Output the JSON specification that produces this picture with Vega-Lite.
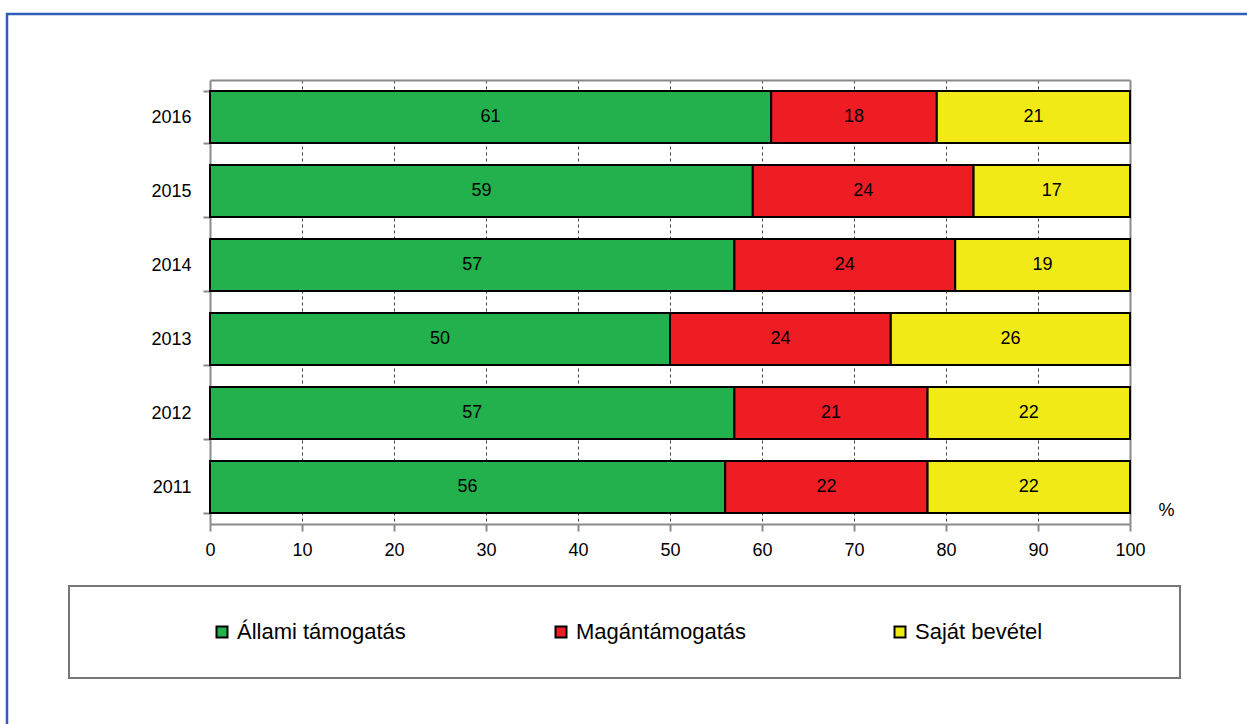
{
  "$schema": "https://vega.github.io/schema/vega-lite/v6.json",
  "width": 1240,
  "height": 710,
  "autosize": "none",
  "padding": {"left": 7, "top": 14, "right": 0, "bottom": 0},
  "background": "white",
  "config": {
    "view": {"stroke": "#2e5fb6", "strokeWidth": 2.5, "strokeDash": [1240, 1950, 710, 10]},
    "font": "Liberation Sans",
    "axis": {
      "labelFont": "Liberation Sans",
      "labelFontSize": 18,
      "labelColor": "black",
      "labelFlush": false,
      "domainColor": "#8a8a8a",
      "domainWidth": 2,
      "tickColor": "#8a8a8a",
      "tickWidth": 2,
      "gridColor": "#444444",
      "gridDash": [3, 3],
      "gridWidth": 1
    },
    "legend": {
      "orient": "none",
      "legendX": 62,
      "legendY": 572,
      "direction": "horizontal",
      "columns": 3,
      "fillColor": "white",
      "strokeColor": "#777777",
      "strokeWidth": 2,
      "padding": 35,
      "symbolType": "square",
      "symbolSize": 121,
      "symbolStrokeColor": "black",
      "symbolStrokeWidth": 2,
      "symbolOpacity": 1,
      "labelFont": "Liberation Sans",
      "labelFontSize": 22,
      "labelColor": "black",
      "labelLimit": 400,
      "symbolOffset": 107,
      "labelOffset": 4,
      "columnPadding": 36,
      "gridAlign": "all",
      "titleOrient": "right",
      "titleFontSize": 22,
      "titlePadding": 103
    }
  },
  "data": {
    "values": [
      {"year": "2016", "category": "Állami támogatás", "rank": 1, "share": 61},
      {"year": "2016", "category": "Magántámogatás", "rank": 2, "share": 18},
      {"year": "2016", "category": "Saját bevétel", "rank": 3, "share": 21},
      {"year": "2015", "category": "Állami támogatás", "rank": 1, "share": 59},
      {"year": "2015", "category": "Magántámogatás", "rank": 2, "share": 24},
      {"year": "2015", "category": "Saját bevétel", "rank": 3, "share": 17},
      {"year": "2014", "category": "Állami támogatás", "rank": 1, "share": 57},
      {"year": "2014", "category": "Magántámogatás", "rank": 2, "share": 24},
      {"year": "2014", "category": "Saját bevétel", "rank": 3, "share": 19},
      {"year": "2013", "category": "Állami támogatás", "rank": 1, "share": 50},
      {"year": "2013", "category": "Magántámogatás", "rank": 2, "share": 24},
      {"year": "2013", "category": "Saját bevétel", "rank": 3, "share": 26},
      {"year": "2012", "category": "Állami támogatás", "rank": 1, "share": 57},
      {"year": "2012", "category": "Magántámogatás", "rank": 2, "share": 21},
      {"year": "2012", "category": "Saját bevétel", "rank": 3, "share": 22},
      {"year": "2011", "category": "Állami támogatás", "rank": 1, "share": 56},
      {"year": "2011", "category": "Magántámogatás", "rank": 2, "share": 22},
      {"year": "2011", "category": "Saját bevétel", "rank": 3, "share": 22}
    ]
  },
  "layer": [
    {
      "mark": {"type": "bar", "stroke": "black", "strokeWidth": 2},
      "encoding": {
        "x": {
          "field": "share",
          "type": "quantitative",
          "stack": "zero",
          "scale": {"domain": [0, 100], "range": [203, 1123], "nice": false, "zero": true},
          "axis": {
            "orient": "bottom",
            "offset": -200,
            "values": [0, 10, 20, 30, 40, 50, 60, 70, 80, 90, 100],
            "grid": false,
            "tickSize": 7,
            "labelPadding": 10,
            "title": "%",
            "titleX": 1159,
            "titleY": -14,
            "titleAlign": "center",
            "titleBaseline": "middle",
            "titleFont": "Liberation Sans",
            "titleFontSize": 18,
            "titleFontWeight": "normal",
            "titleColor": "black"
          }
        },
        "y": {
          "field": "year",
          "type": "ordinal",
          "sort": "descending",
          "scale": {"range": [66, 510], "paddingInner": 0.3, "paddingOuter": 0.15},
          "axis": {
            "orient": "left",
            "offset": -203,
            "tickBand": "extent",
            "tickSize": 7,
            "labelPadding": 12,
            "grid": false,
            "title": null
          }
        },
        "color": {
          "field": "category",
          "type": "nominal",
          "scale": {
            "domain": ["Állami támogatás", "Magántámogatás", "Saját bevétel"],
            "range": ["#22b14c", "#ee1d24", "#f2ea17"]
          },
          "legend": {"title": " "}
        },
        "order": {"field": "rank", "type": "quantitative", "sort": "ascending"}
      }
    },
    {
      "mark": {"type": "text", "font": "Liberation Sans", "fontSize": 18, "color": "black", "align": "center", "baseline": "middle"},
      "encoding": {
        "x": {
          "field": "share",
          "type": "quantitative",
          "stack": "zero",
          "bandPosition": 0.5,
          "axis": {
            "orient": "top",
            "offset": -66,
            "values": [10, 20, 30, 40, 50, 60, 70, 80, 90],
            "grid": true,
            "ticks": false,
            "labels": false,
            "title": null,
            "zindex": 0
          }
        },
        "y": {
          "field": "year",
          "type": "ordinal",
          "sort": "descending",
          "axis": {
            "orient": "right",
            "offset": -117,
            "ticks": false,
            "labels": false,
            "grid": false,
            "title": null
          }
        },
        "detail": {"field": "category", "type": "nominal"},
        "order": {"field": "rank", "type": "quantitative", "sort": "ascending"},
        "text": {"field": "share", "type": "quantitative"}
      }
    }
  ],
  "resolve": {"axis": {"x": "independent", "y": "independent"}}
}
